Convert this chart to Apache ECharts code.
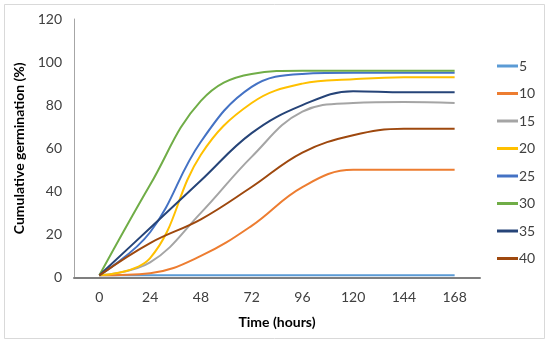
<!DOCTYPE html>
<html><head><meta charset="utf-8">
<script src="https://cdn.jsdelivr.net/npm/echarts@6/dist/echarts.min.js"></script>
<style>html,body{margin:0;padding:0;background:#fff}#c{width:550px;height:346px}</style>
</head><body><div id="c"></div>
<script>
var categories = ['0','24','48','72','96','120','144','168'];
var seriesNames = ['5','10','15','20','25','30','35','40'];
var s5  = [1, 1, 1, 1, 1, 1, 1, 1];
var s10 = [1, 2, 10, 24, 42, 50, 50, 50];
var s15 = [1, 7, 30, 56, 77, 81, 81.5, 81];
var s20 = [1, 9, 57, 81, 90, 92, 93, 93];
var s25 = [1, 21, 63, 88.5, 94.5, 95, 95, 95];
var s30 = [1, 43, 82, 94.5, 96, 96, 96, 96];
var s35 = [1, 23, 45, 67, 80, 86.5, 86, 86];
var s40 = [1, 16, 27, 42, 58, 66, 69, 69];
var colors = ['#5B9BD5','#ED7D31','#A5A5A5','#FFC000','#4472C4','#70AD47','#264478','#9E480E'];
var allData = [s5,s10,s15,s20,s25,s30,s35,s40];

var font = 'Lato, "Noto Sans", sans-serif';
var chart = echarts.init(document.getElementById('c'), null, {renderer:'canvas'});
chart.setOption({
  animation: false,
  backgroundColor: '#fff',
  graphic: [{type:'rect', shape:{x:4.5,y:4.5,width:540,height:334}, style:{fill:'none', stroke:'#D9D9D9', lineWidth:1}, silent:true}],
  grid: {left:74, right:70, top:19, bottom:68.5, containLabel:false},
  legend: {
    orient:'vertical', left:492, top:54, icon:'rect', itemWidth:21, itemHeight:3, itemGap:13.5,
    textStyle:{fontFamily:font, fontSize:14, color:'#404040', padding:[0,0,0,-4]},
    data: seriesNames
  },
  xAxis: {
    type:'category', data:categories, boundaryGap:true,
    name:'Time (hours)', nameLocation:'middle', nameGap:38,
    nameTextStyle:{fontFamily:font, fontSize:14, fontWeight:'bold', color:'#000'},
    axisLine:{lineStyle:{color:'#7F7F7F', width:2}},
    axisTick:{show:false},
    axisLabel:{fontFamily:font, fontSize:14, color:'#404040', margin:13},
    splitLine:{show:false}
  },
  yAxis: {
    type:'value', min:0, max:120, interval:20,
    name:'Cumulative germination (%)', nameLocation:'middle', nameGap:48, nameRotate:90,
    nameTextStyle:{fontFamily:font, fontSize:14, fontWeight:'bold', color:'#000'},
    axisLine:{show:true, lineStyle:{color:'#A6A6A6', width:1}},
    axisTick:{show:false},
    axisLabel:{fontFamily:font, fontSize:14, color:'#404040', margin:12},
    splitLine:{show:false}
  },
  series: seriesNames.map(function(n,i){
    return {name:n, type:'line', data:allData[i], smooth:0.4, symbol:'none',
      lineStyle:{width:2, color:colors[i]}, itemStyle:{color:colors[i]}};
  })
});
</script></body></html>
